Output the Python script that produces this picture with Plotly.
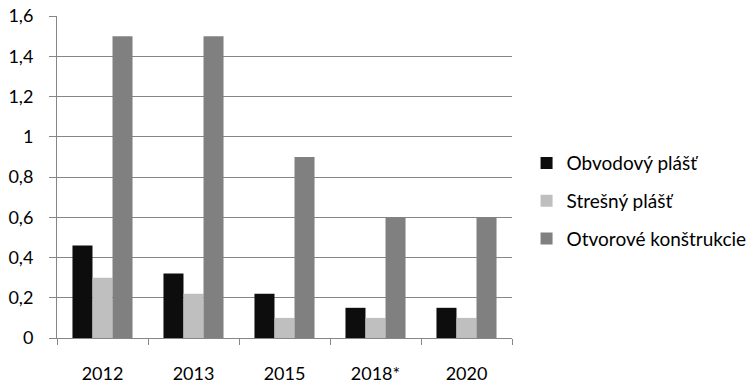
import plotly.graph_objects as go

categories = ["2012", "2013", "2015", "2018*", "2020"]
series_names = ["Obvodový plášť", "Strešný plášť", "Otvorové konštrukcie"]
obvodovy = [0.46, 0.32, 0.22, 0.15, 0.15]
stresny = [0.30, 0.22, 0.10, 0.10, 0.10]
otvorove = [1.5, 1.5, 0.9, 0.6, 0.6]
y_tickvals = [0, 0.2, 0.4, 0.6, 0.8, 1.0, 1.2, 1.4, 1.6]
y_ticktext = ["0", "0,2", "0,4", "0,6", "0,8", "1", "1,2", "1,4", "1,6"]

colors = ["#0d0d0d", "#bfbfbf", "#808080"]
values = [obvodovy, stresny, otvorove]

fig = go.Figure()
for name, vals, col in zip(series_names, values, colors):
    fig.add_trace(go.Bar(x=categories, y=vals, name=name, marker_color=col,
                         marker_line_width=0, legendgroup=name))

font = "Lato, 'Open Sans', sans-serif"
fig.update_layout(
    width=750, height=390,
    margin=dict(l=57, r=238, t=16, b=52, autoexpand=False),
    barmode="group", bargap=0.34, bargroupgap=0,
    plot_bgcolor="white", paper_bgcolor="white",
    font=dict(family=font, size=16, color="#000000"),
    legend=dict(x=1.032, xanchor="left", y=0.425, yanchor="middle",
                font=dict(size=19), traceorder="grouped", tracegroupgap=10,
                itemwidth=30),
    xaxis=dict(type="category", tickson="boundaries", showgrid=False,
               showline=True, linecolor="#868686", linewidth=1,
               ticks="outside", ticklen=6, tickcolor="#868686",
               ticklabelstandoff=19, tickfont=dict(size=18), automargin=False),
    yaxis=dict(range=[0, 1.6], tickvals=y_tickvals, ticktext=y_ticktext,
               showgrid=True, gridcolor="#868686", gridwidth=1,
               showline=True, linecolor="#868686", linewidth=1,
               ticks="outside", ticklen=7, tickcolor="#868686",
               zeroline=False, ticklabelstandoff=12, tickfont=dict(size=18),
               automargin=False),
)
fig.write_html("out.html", config={"displayModeBar": False},
               post_script="document.body.style.margin='0';")
